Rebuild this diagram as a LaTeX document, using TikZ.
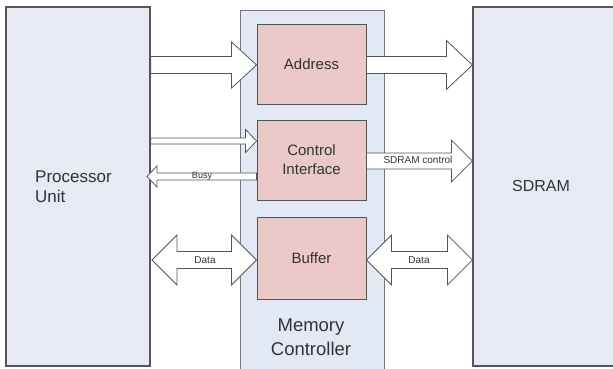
\documentclass[tikz,border=0pt]{standalone}
\usepackage{fontspec}
\setmainfont{Liberation Sans}
\usetikzlibrary{calc}
\definecolor{outerfill}{HTML}{E7EAF5}
\definecolor{mcfill}{HTML}{E3E9F4}
\definecolor{pinkfill}{HTML}{EBC9C9}
\definecolor{edgegray}{HTML}{555555}
\definecolor{txt}{HTML}{333333}
\tikzset{
  outerbox/.style={draw=edgegray, line width=1.2pt, fill=outerfill, inner sep=0pt},
  mcbox/.style={draw=edgegray!80, line width=1pt, fill=mcfill, inner sep=0pt},
  pinkbox/.style={draw=edgegray, line width=0.9pt, fill=pinkfill, minimum width=109pt, minimum height=80pt, inner sep=0pt, font=\fontsize{15}{19}\selectfont, text=txt, align=center},
  blockarrow/.style={draw=edgegray, line width=0.8pt, fill=white, line join=miter},
  smalllabel/.style={font=\fontsize{10}{11}\selectfont, text=txt, inner sep=0pt},
}
% right-pointing block arrow: #1 start, #2 tip, #3 shaft half, #4 head half, #5 head length
\newcommand\rblockarrow[5]{%
  \draw[blockarrow] let \p1=(#1), \p2=(#2) in
    (\x1,\y1+#3) -- (\x2-#5,\y1+#3) -- (\x2-#5,\y1+#4) -- (\x2,\y1)
    -- (\x2-#5,\y1-#4) -- (\x2-#5,\y1-#3) -- (\x1,\y1-#3) -- cycle;}
% left-pointing block arrow: #1 start (right end), #2 tip (left)
\newcommand\lblockarrow[5]{%
  \draw[blockarrow] let \p1=(#1), \p2=(#2) in
    (\x1,\y1+#3) -- (\x2+#5,\y1+#3) -- (\x2+#5,\y1+#4) -- (\x2,\y1)
    -- (\x2+#5,\y1-#4) -- (\x2+#5,\y1-#3) -- (\x1,\y1-#3) -- cycle;}
% double block arrow: #1 left tip, #2 right tip, #3 shaft half, #4 head half, #5 head length
\newcommand\dblockarrow[5]{%
  \draw[blockarrow] let \p1=(#1), \p2=(#2) in
    (\x1,\y1) -- (\x1+#5,\y1+#4) -- (\x1+#5,\y1+#3) -- (\x2-#5,\y1+#3)
    -- (\x2-#5,\y1+#4) -- (\x2,\y1) -- (\x2-#5,\y1-#4) -- (\x2-#5,\y1-#3)
    -- (\x1+#5,\y1-#3) -- (\x1+#5,\y1-#4) -- cycle;}
\begin{document}
\begin{tikzpicture}[x=1pt,y=-1pt]
\clip (0,0) rectangle (613,369);
\fill[white] (0,0) rectangle (613,369);

% outer blocks
\node[outerbox, minimum width=144pt, minimum height=359pt] (proc) at (78,186.5) {};
\node[font=\fontsize{17}{20}\selectfont, text=txt, align=left, anchor=west, inner sep=0pt] (proctxt) at (35,187) {Processor\\Unit};
\node[mcbox, minimum width=144pt, minimum height=366pt] (mc) at (312,194) {};
\node[outerbox, minimum width=146pt, minimum height=359pt] (sdram) at (546,186.5) {};
\node[font=\fontsize{16}{19}\selectfont, text=txt] (sdramtxt) at (541,186) {SDRAM};

% inner blocks
\node[pinkbox] (addr) at (311.5,64) {Address};
\node[pinkbox] (ctrl) at (311.5,160) {Control\\Interface};
\node[pinkbox, minimum height=82pt] (buf) at (311.5,258) {Buffer};
\node[font=\fontsize{18.5}{24}\selectfont, text=txt, align=center] (mctxt) at (311,337) {Memory\\Controller};

% coordinates for arrows
\coordinate (a1s) at (proc.east |- 0,65);
\coordinate (a1t) at (addr.west |- 0,65);
\coordinate (a2s) at (addr.east |- 0,65);
\coordinate (a2t) at (sdram.west |- 0,65);
\coordinate (c1s) at (proc.east |- 0,141);
\coordinate (c1t) at (ctrl.west |- 0,141);
\coordinate (bs) at (ctrl.west |- 0,176.5);
\coordinate (bt) at (147,176.5);
\coordinate (sc1) at (ctrl.east |- 0,161);
\coordinate (sc2) at (sdram.west |- 0,161);
\coordinate (d1l) at (152,260);
\coordinate (d1r) at (buf.west |- 0,260);
\coordinate (d2l) at (buf.east |- 0,260);
\coordinate (d2r) at (sdram.west |- 0,260);

% arrows
\rblockarrow{a1s}{a1t}{8.5}{23}{25}
\rblockarrow{a2s}{a2t}{8.5}{24.5}{26}
\rblockarrow{c1s}{c1t}{3}{11.5}{11}
\lblockarrow{bs}{bt}{3.5}{10.5}{10}
\rblockarrow{sc1}{sc2}{8}{21}{21}
\dblockarrow{d1l}{d1r}{8.5}{25}{25}
\dblockarrow{d2l}{d2r}{8.5}{25}{25}

% labels
\node[smalllabel, font=\fontsize{9}{10}\selectfont] (busy) at (202,176.5) {Busy};
\node[smalllabel] (sdctl) at (418,160) {SDRAM control};
\node[smalllabel] (data1) at (205,260) {Data};
\node[smalllabel] (data2) at (419,260) {Data};
\end{tikzpicture}
\end{document}
